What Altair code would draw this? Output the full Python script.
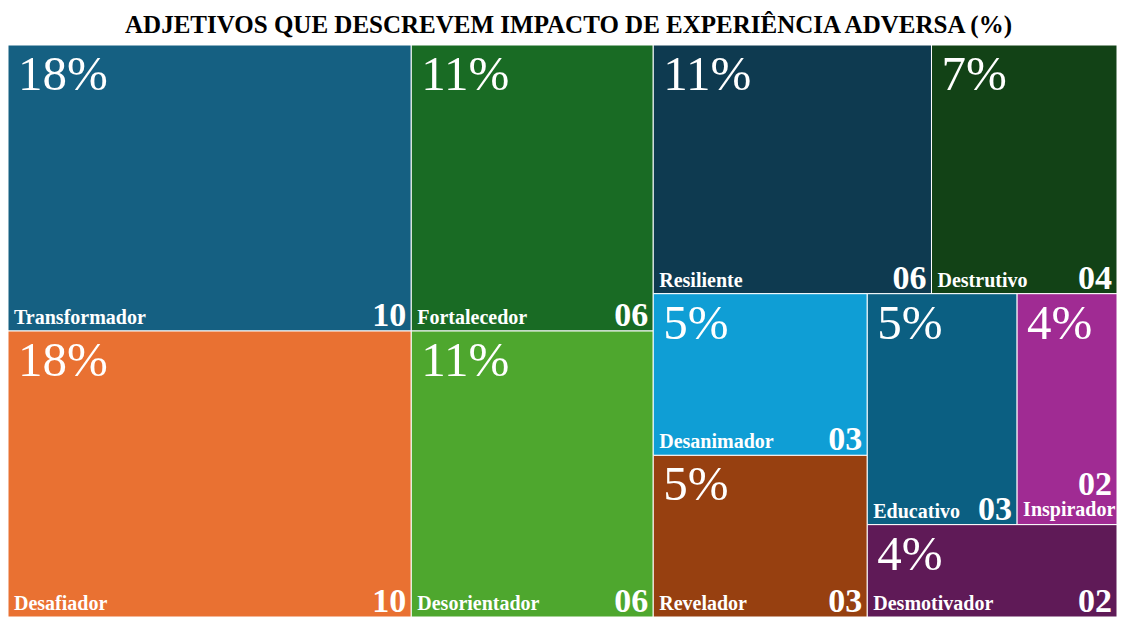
import altair as alt
import pandas as pd

# ---- data ----
names = ["Transformador", "Desafiador", "Fortalecedor", "Desorientador", "Resiliente",
         "Destrutivo", "Desanimador", "Revelador", "Educativo", "Inspirador", "Desmotivador"]
counts = [10, 10, 6, 6, 6, 4, 3, 3, 3, 2, 2]
colors = ["#156082", "#E97132", "#196B24", "#4EA72E", "#0E3A50",
          "#124216", "#0F9ED5", "#974010", "#0B5F82", "#A02B93", "#5F1A57"]
title = "ADJETIVOS QUE DESCREVEM IMPACTO DE EXPERIÊNCIA ADVERSA (%)"

W, H = 1109, 572
RATIO = 1.2
FONT = "Liberation Serif"


def squarify(values, x0, y0, x1, y1, ratio):
    """d3-style squarified treemap layout."""
    out = [None] * len(values)
    n = len(values)
    value = float(sum(values))
    i0 = 0
    while i0 < n:
        dx, dy = x1 - x0, y1 - y0
        i1 = i0
        s = values[i1]
        i1 += 1
        mn = mx = s
        alpha = max(dy / dx, dx / dy) / (value * ratio)
        beta = s * s * alpha
        min_ratio = max(mx / beta, beta / mn)
        while i1 < n:
            v = values[i1]
            s += v
            mn, mx = min(mn, v), max(mx, v)
            beta = s * s * alpha
            r = max(mx / beta, beta / mn)
            if r > min_ratio:
                s -= v
                break
            min_ratio = r
            i1 += 1
        row = list(range(i0, i1))
        if dx < dy:
            yb = y0 + dy * s / value
            xx = x0
            for k in row:
                w = dx * values[k] / s
                out[k] = (xx, y0, xx + w, yb)
                xx += w
            y0 = yb
        else:
            xb = x0 + dx * s / value
            yy = y0
            for k in row:
                h = dy * values[k] / s
                out[k] = (x0, yy, xb, yy + h)
                yy += h
            x0 = xb
        value -= s
        i0 = i1
    return out


rects = squarify(counts, 0, 0, W, H, RATIO)
total = sum(counts)
rows = []
for nm, c, col, (a, b, cc, d) in zip(names, counts, colors, rects):
    width = cc - a
    stacked = (len(nm) * 0.5 * 20 + 34 + 20) > width
    rows.append(dict(name=nm, count=c, color=col, x0=a, y0=b, x1=cc, y1=d,
                     pct=f"{round(100 * c / total)}%", num=f"{c:02d}",
                     tx=a + 10, ty=b + 6,
                     nx=a + 6, ny=d - (9 if stacked else 7),
                     cx=cc - 5, cy=d - (30 if stacked else 5)))
df = pd.DataFrame(rows)

xs = alt.Scale(domain=[0, W], range=[0, W])
ys = alt.Scale(domain=[0, H], range=[0, H])
X = lambda f: alt.X(f, type="quantitative", scale=xs, axis=None)
Y = lambda f: alt.Y(f, type="quantitative", scale=ys, axis=None)

base = alt.Chart(df)
rect = base.mark_rect(stroke="white", strokeWidth=1).encode(
    x=X("x0"), x2="x1", y=Y("y0"), y2="y1",
    fill=alt.Fill("color:N", scale=None))
pct = base.mark_text(align="left", baseline="top", font=FONT, fontSize=49,
                     color="white").encode(x=X("tx"), y=Y("ty"), text="pct:N")
nm = base.mark_text(align="left", baseline="alphabetic", font=FONT, fontSize=20,
                    fontWeight="bold", color="white").encode(x=X("nx"), y=Y("ny"), text="name:N")
num = base.mark_text(align="right", baseline="alphabetic", font=FONT, fontSize=34,
                     fontWeight="bold", color="white").encode(x=X("cx"), y=Y("cy"), text="num:N")

ttl = alt.Chart(pd.DataFrame({"t": [title]})).mark_text(
    align="center", baseline="alphabetic", font=FONT, fontSize=25, fontWeight="bold",
    color="black", dx=6).encode(x=alt.value(W / 2), y=alt.value(-12), text="t:N")

chart = alt.layer(rect, pct, nm, num, ttl).properties(
    width=W, height=H,
    autosize=alt.AutoSizeParams(type="none"),
    padding={"left": 0, "top": 37, "right": 0, "bottom": 0},
).configure_view(stroke=None)

chart.save("out.html", embed_options={"renderer": "svg", "actions": False})
